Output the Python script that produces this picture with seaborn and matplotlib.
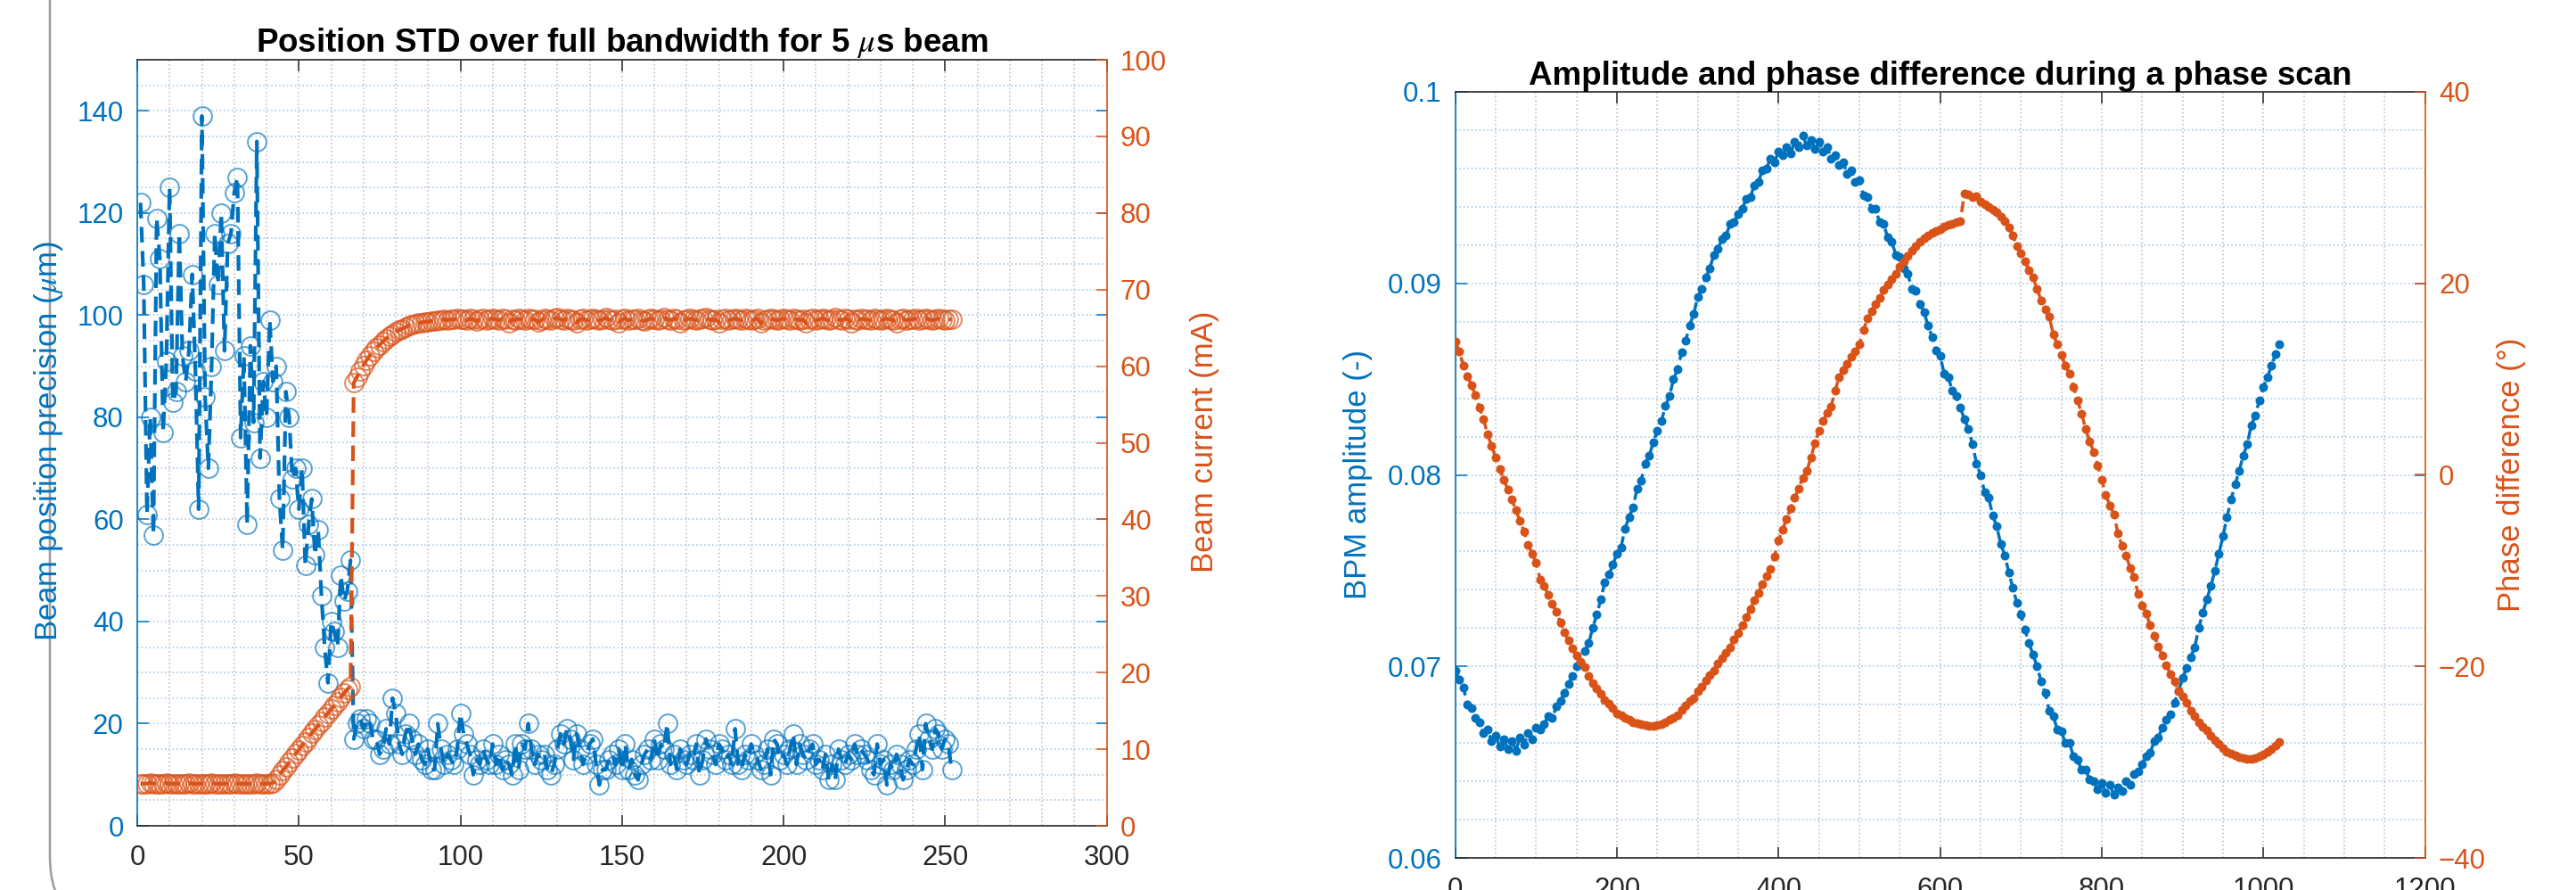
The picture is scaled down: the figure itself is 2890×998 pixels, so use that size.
import numpy as np
import pandas as pd
import matplotlib
matplotlib.use("Agg")
import matplotlib.pyplot as plt
import seaborn as sns
from matplotlib.ticker import MultipleLocator, FormatStrFormatter
from matplotlib.patches import FancyBboxPatch
from matplotlib.transforms import IdentityTransform

# ---------------- data: left panel (pulse index 1..252) ----------------
pulse_index = list(range(1, 253))

beam_precision_um = [
    122, 106, 61, 80, 57, 119, 111, 77, 91, 125,
    83, 85, 116, 92, 87, 93, 108, 89, 62, 139,
    84, 70, 90, 116, 106, 120, 93, 114, 116, 124,
    127, 76, 92, 59, 94, 79, 134, 72, 87, 80,
    99, 87, 90, 64, 54, 85, 80, 68, 70, 62,
    70, 51, 59, 64, 53, 58, 45, 35, 28, 40,
    38, 35, 49, 44, 46, 52,
    17, 20, 21, 19, 21, 20, 17, 17, 14, 15,
    19, 16, 25, 22, 16, 14, 18, 20, 17, 14,
    16, 13, 12, 15, 11, 11, 20, 15, 12, 14,
    13, 12, 15, 22, 18, 16, 14, 10, 13, 12,
    15, 13, 12, 16, 12, 14, 11, 13, 12, 10,
    16, 11, 16, 15, 20, 15, 12, 14, 13, 14,
    11, 10, 12, 15, 18, 16, 19, 17, 13, 18,
    15, 12, 14, 16, 17, 12, 8, 11, 11, 13,
    14, 12, 15, 11, 16, 11, 13, 10, 9, 12,
    14, 15, 13, 17, 13, 16, 15, 20, 12, 14,
    11, 15, 13, 12, 14, 13, 16, 10, 13, 17,
    15, 14, 12, 16, 15, 13, 14, 12, 19, 12,
    11, 14, 13, 16, 14, 13, 11, 12, 15, 10,
    17, 16, 13, 14, 12, 15, 18, 12, 16, 14,
    13, 15, 16, 12, 13, 11, 14, 9, 12, 9,
    15, 13, 12, 14, 13, 16, 14, 15, 14, 13,
    11, 10, 16, 12, 13, 8, 12, 11, 14, 12,
    9, 11, 13, 12, 15, 18, 11, 20, 17, 15,
    19, 18, 15, 17, 16, 11,
]

beam_current_mA = [
    5.5, 5.5, 5.5, 5.6, 5.5, 5.5, 5.5, 5.5, 5.6, 5.5,
    5.5, 5.5, 5.5, 5.5, 5.5, 5.6, 5.5, 5.5, 5.5, 5.5,
    5.5, 5.5, 5.6, 5.5, 5.5, 5.5, 5.5, 5.5, 5.5, 5.6,
    5.5, 5.5, 5.5, 5.5, 5.5, 5.5, 5.6, 5.5, 5.5, 5.5,
    5.5,
    5.6, 6.0, 6.6, 7.2, 7.7, 8.3, 8.8, 9.4, 9.9, 10.5,
    11.0, 11.5, 12.1, 12.6, 13.1, 13.6, 14.2, 14.7, 15.2, 15.7,
    16.2, 16.8, 17.3, 17.8, 18.2,
    57.8, 58.6, 59.4, 60.1, 60.8, 61.4, 61.9, 62.4, 62.8, 63.2,
    63.6, 63.9, 64.2, 64.5, 64.7, 64.9, 65.1, 65.3, 65.4, 65.5,
    65.6, 65.7, 65.8, 65.8, 65.9, 65.9, 66.0, 66.0, 66.1, 66.0,
    66.1, 66.1, 66.2, 66.1,
    66.1, 66.0, 66.2, 66.1, 65.9, 66.1, 66.2, 66.0, 66.1, 66.2,
    66.1, 66.0, 66.2, 66.1, 65.6, 66.1, 66.0, 66.2, 66.1, 66.0,
    66.2, 66.1, 66.1, 65.8, 66.0, 66.2, 66.1, 66.0, 66.2, 66.3,
    66.1, 66.0, 66.2, 66.1, 66.0, 65.7, 66.1, 66.2, 66.0, 66.1,
    66.2, 66.1, 66.0, 66.1, 66.3, 66.1, 66.0, 66.1, 65.6, 66.1,
    66.2, 66.0, 66.1, 66.1, 66.2, 66.0, 65.9, 66.1, 66.2, 66.1,
    66.0, 66.1, 66.3, 66.1, 66.0, 66.2, 66.1, 65.6, 66.0, 66.1,
    66.2, 66.1, 66.0, 66.1, 66.2, 66.3, 66.1, 66.0, 66.1, 65.7,
    66.1, 66.2, 66.0, 66.1, 66.2, 66.1, 66.0, 66.2, 66.1, 66.0,
    66.1, 66.2, 65.6, 66.0, 66.1, 66.2, 66.1, 66.0, 66.1, 66.2,
    66.1, 66.0, 66.2, 66.1, 66.0, 66.1, 65.6, 66.1, 66.2, 66.0,
    66.1, 66.2, 66.1, 66.0, 66.1, 66.3, 66.1, 66.0, 66.2, 66.1,
    65.6, 66.1, 66.0, 66.2, 66.1, 66.1, 66.0, 66.2, 66.1, 66.0,
    66.1, 66.2, 66.1, 66.0, 65.7, 66.1, 66.2, 66.0, 66.1, 66.1,
    66.2, 66.0, 66.1, 66.2, 66.1, 66.0, 66.1, 66.2, 66.1, 66.0,
    66.1, 66.1,
]

# ---------------- data: right panel (scan step, every 5th sample) ----------------
scan_step = list(range(0, 1021, 5))

bpm_amplitude = [
    .0698, .0693, .0689, .0680, .0678, .0673, .0671, .0665, .0667, .0661,
    .0664, .0658, .0662, .0657, .0661, .0656, .0663, .0659, .0665, .0662,
    .0668, .0667, .0670, .0674, .0673, .0679, .0682, .0686, .0691, .0695,
    .0700, .0702, .0708, .0712, .0720, .0727, .0735, .0744, .0748, .0753,
    .0759, .0762, .0772, .0778, .0783, .0793, .0797, .0806, .0810, .0817,
    .0823, .0828, .0836, .0841, .0850, .0855, .0864, .0870, .0878, .0884,
    .0893, .0897, .0903, .0908, .0915, .0918, .0923, .0925, .0931, .0932,
    .0936, .0939, .0944, .0945, .0951, .0953, .0959, .0960, .0965, .0963,
    .0969, .0967, .0971, .0968, .0974, .0971, .0977, .0972, .0975, .0970,
    .0974, .0969, .0971, .0965, .0967, .0962, .0963, .0957, .0959, .0953,
    .0954, .0946, .0945, .0939, .0939, .0932, .0931, .0924, .0922, .0915,
    .0914, .0908, .0905, .0897, .0896, .0889, .0885, .0878, .0872, .0865,
    .0862, .0853, .0851, .0844, .0841, .0835, .0829, .0824, .0816, .0806,
    .0800, .0791, .0788, .0779, .0773, .0764, .0758, .0749, .0741, .0733,
    .0727, .0719, .0712, .0706, .0700, .0692, .0686, .0677, .0674, .0667,
    .0666, .0660, .0660, .0653, .0651, .0646, .0646, .0641, .0640, .0636,
    .0639, .0634, .0638, .0633, .0637, .0635, .0640, .0638, .0644, .0645,
    .0649, .0653, .0655, .0661, .0663, .0668, .0672, .0675, .0681, .0687,
    .0694, .0699, .0705, .0710, .0720, .0728, .0735, .0742, .0750, .0759,
    .0768, .0778, .0787, .0795, .0802, .0810, .0816, .0826, .0831, .0839,
    .0846, .0851, .0857, .0863, .0868,
]

phase_difference_deg = [
    13.9, 12.9, 11.4, 10.3, 9.4, 8.3, 7.0, 5.8, 4.2, 3.0,
    1.8, 0.6, -0.5, -1.5, -2.6, -3.7, -4.8, -5.9, -7.3, -8.2,
    -9.2, -10.9, -11.6, -12.5, -13.5, -14.3, -15.4, -16.4, -17.3, -18.1,
    -18.9, -19.5, -20.1, -21.0, -21.7, -22.3, -22.9, -23.5, -23.9, -24.4,
    -24.9, -25.1, -25.4, -25.6, -25.8, -25.9, -26.0, -26.1, -26.2, -26.2,
    -26.1, -26.0, -25.8, -25.6, -25.4, -25.1, -24.5, -24.1, -23.6, -23.3,
    -22.6, -22.1, -21.5, -20.9, -20.4, -19.7, -19.1, -18.6, -18.0, -17.2,
    -16.5, -15.7, -14.9, -14.0, -13.1, -12.3, -11.4, -10.6, -9.8, -8.5,
    -6.8, -5.7, -4.6, -3.5, -2.4, -1.4, -0.3, 0.4, 1.8, 3.3,
    4.6, 5.6, 6.5, 7.1, 8.8, 10.2, 10.9, 11.6, 12.3, 12.9,
    13.6, 15.1, 16.3, 17.1, 17.8, 18.5, 19.3, 19.9, 20.4, 21.0,
    21.7, 22.3, 22.9, 23.4, 23.9, 24.4, 24.7, 25.0, 25.3, 25.5,
    25.7, 25.9, 26.1, 26.2, 26.4, 26.5, 29.4, 29.3, 29.0, 29.1,
    28.5, 28.3, 28.0, 27.7, 27.4, 27.0, 26.5, 25.8, 25.0, 23.9,
    23.1, 22.3, 21.4, 20.6, 19.4, 18.2, 17.3, 16.5, 14.7, 13.6,
    12.5, 11.4, 10.6, 9.2, 7.8, 6.4, 4.8, 3.5, 2.4, 1.0,
    -0.5, -2.1, -3.2, -4.1, -6.1, -7.4, -8.4, -9.7, -10.7, -12.4,
    -13.6, -14.5, -15.7, -16.8, -17.9, -18.9, -19.9, -20.8, -21.6, -22.6,
    -23.1, -23.8, -24.6, -25.2, -25.8, -26.3, -26.7, -27.2, -27.7, -28.1,
    -28.5, -28.9, -29.1, -29.3, -29.5, -29.6, -29.7, -29.7, -29.6, -29.4,
    -29.2, -28.9, -28.6, -28.3, -27.9,
]

left_x_ticks = [0, 50, 100, 150, 200, 250, 300]
left_y_ticks = [0, 20, 40, 60, 80, 100, 120, 140]
current_ticks = [0, 10, 20, 30, 40, 50, 60, 70, 80, 90, 100]
right_x_ticks = [0, 200, 400, 600, 800, 1000, 1200]
amp_ticks = [0.06, 0.07, 0.08, 0.09, 0.1]
phase_ticks = [-40, -20, 0, 20, 40]

# ---------------- style ----------------
BLUE = "#0072BD"
ORANGE = "#D95319"
DARK = "#262626"
BLUE_EDGE = (0.0, 0.447, 0.741, 0.65)
ORANGE_EDGE = (0.851, 0.325, 0.098, 0.68)
VGRID = "#c4c4c4"
HGRID = "#aacbe6"

sns.set_theme(style="white")
plt.rcParams["font.family"] = ["Liberation Sans", "DejaVu Sans"]
plt.rcParams["mathtext.fontset"] = "stix"
plt.rcParams["axes.linewidth"] = 1.2

TICK_FS = 22.5
LABEL_FS = 25
TITLE_FS = 26.5

fig = plt.figure(figsize=(28.9, 9.98), dpi=100)

W, H = 2890.0, 998.0
def rect(l, t, r, b):
    return [l / W, 1 - b / H, (r - l) / W, (b - t) / H]

ax1 = fig.add_axes(rect(154, 67, 1241.5, 926))
ax2 = fig.add_axes(rect(1632.7, 103, 2720.6, 962))


def style_pair(ax, axr, xlim, xticks, xminor, ylim, yticks, yminor, rlim, rticks):
    ax.set_xlim(*xlim)
    ax.set_ylim(*ylim)
    axr.set_ylim(*rlim)
    ax.set_xticks(xticks)
    ax.set_yticks(yticks)
    axr.set_yticks(rticks)
    ax.xaxis.set_minor_locator(MultipleLocator(xminor))
    ax.yaxis.set_minor_locator(MultipleLocator(yminor))
    ax.set_axisbelow(True)
    ax.grid(which="both", axis="x", color=VGRID, linestyle=":", linewidth=1.2)
    ax.grid(which="both", axis="y", color=HGRID, linestyle=":", linewidth=1.2)
    axr.grid(False)
    ax.tick_params(which="minor", length=0)
    ax.tick_params(axis="x", which="major", direction="in", length=9, width=1.1,
                   color=DARK, top=True, bottom=True, labelsize=TICK_FS,
                   labelcolor=DARK, pad=15)
    ax.tick_params(axis="y", which="major", direction="in", length=9, width=1.1,
                   color=BLUE, left=True, right=True, labelleft=True,
                   labelright=False, labelsize=TICK_FS, labelcolor=BLUE, pad=11)
    axr.tick_params(axis="y", which="major", direction="in", length=9, width=1.1,
                    color=ORANGE, left=False, right=True, labelsize=TICK_FS,
                    labelcolor=ORANGE, pad=11)
    axr.tick_params(which="minor", length=0)
    ax.spines["left"].set_color(BLUE)
    ax.spines["top"].set_color(DARK)
    ax.spines["bottom"].set_color(DARK)
    ax.spines["right"].set_visible(False)
    for s in ("left", "top", "bottom"):
        axr.spines[s].set_visible(False)
    axr.spines["right"].set_color(ORANGE)
    axr.spines["right"].set_linewidth(1.2)
    for s in ("left", "top", "bottom"):
        ax.spines[s].set_linewidth(1.2)
    ax.set_xlabel("")
    ax.set_ylabel("")
    axr.set_xlabel("")
    axr.set_ylabel("")


# ---------------- left panel ----------------
left_df = pd.DataFrame({"pulse": pulse_index,
                        "precision": beam_precision_um,
                        "current": beam_current_mA})
ax1r = ax1.twinx()
ax1r.set_position(ax1.get_position())

sns.lineplot(data=left_df, x="pulse", y="precision", ax=ax1, color=BLUE,
             linestyle="--", linewidth=3.0, marker="o", markersize=15,
             markerfacecolor="none", markeredgecolor=BLUE_EDGE,
             markeredgewidth=1.4, errorbar=None)
ax1.lines[-1].set_dashes((4.2, 2.3))
sns.lineplot(data=left_df, x="pulse", y="current", ax=ax1r, color=ORANGE,
             linestyle="--", linewidth=3.0, marker="o", markersize=15,
             markerfacecolor="none", markeredgecolor=ORANGE_EDGE,
             markeredgewidth=1.4, errorbar=None)
ax1r.lines[-1].set_dashes((4.2, 2.3))

style_pair(ax1, ax1r, (0, 300), left_x_ticks, 10, (0, 150), left_y_ticks, 5,
           (0, 100), current_ticks)
ax1.set_title(r"Position STD over full bandwidth for 5 $\mu$s beam",
              fontsize=TITLE_FS, fontweight="bold", pad=6, color="black")

# ---------------- right panel ----------------
right_df = pd.DataFrame({"step": scan_step,
                         "amplitude": bpm_amplitude,
                         "phase": phase_difference_deg})
ax2r = ax2.twinx()
ax2r.set_position(ax2.get_position())

sns.lineplot(data=right_df, x="step", y="amplitude", ax=ax2, color=BLUE,
             linestyle="--", linewidth=2.5, marker="o", markersize=7.2,
             markerfacecolor=BLUE, markeredgecolor=BLUE, markeredgewidth=0,
             errorbar=None)
ax2.lines[-1].set_dashes((3.5, 1.8))
sns.lineplot(data=right_df, x="step", y="phase", ax=ax2r, color=ORANGE,
             linestyle="--", linewidth=2.5, marker="o", markersize=7.2,
             markerfacecolor=ORANGE, markeredgecolor=ORANGE, markeredgewidth=0,
             errorbar=None)
ax2r.lines[-1].set_dashes((3.5, 1.8))

style_pair(ax2, ax2r, (0, 1200), right_x_ticks, 50, (0.06, 0.1), amp_ticks, 0.002,
           (-40, 40), phase_ticks)
ax2.yaxis.set_major_formatter(FormatStrFormatter("%g"))
ax2.set_title("Amplitude and phase difference during a phase scan",
              fontsize=TITLE_FS, fontweight="bold", pad=6, color="black")

# ---------------- axis labels (placed in figure pixels) ----------------
fig.text(55 / W, 1 - 495 / H, r"Beam position precision ($\mu$m)", rotation=90,
         ha="center", va="center", fontsize=LABEL_FS, color=BLUE)
fig.text(1352 / W, 1 - 495 / H, "Beam current (mA)", rotation=90,
         ha="center", va="center", fontsize=LABEL_FS, color=ORANGE)
fig.text(1524 / W, 1 - 532 / H, "BPM amplitude (-)", rotation=90,
         ha="center", va="center", fontsize=LABEL_FS, color=BLUE)
fig.text(2818 / W, 1 - 532 / H, "Phase difference (°)", rotation=90,
         ha="center", va="center", fontsize=LABEL_FS, color=ORANGE)

# ---------------- grey rounded panel frame on the left ----------------
frame = FancyBboxPatch((56, -47), 4000, 2000,
                       boxstyle="round,pad=0,rounding_size=85",
                       transform=IdentityTransform(), fill=False,
                       edgecolor="#a0a0a0", linewidth=1.9, zorder=0)
fig.patches.append(frame)

fig.savefig("out.png", dpi=100)
